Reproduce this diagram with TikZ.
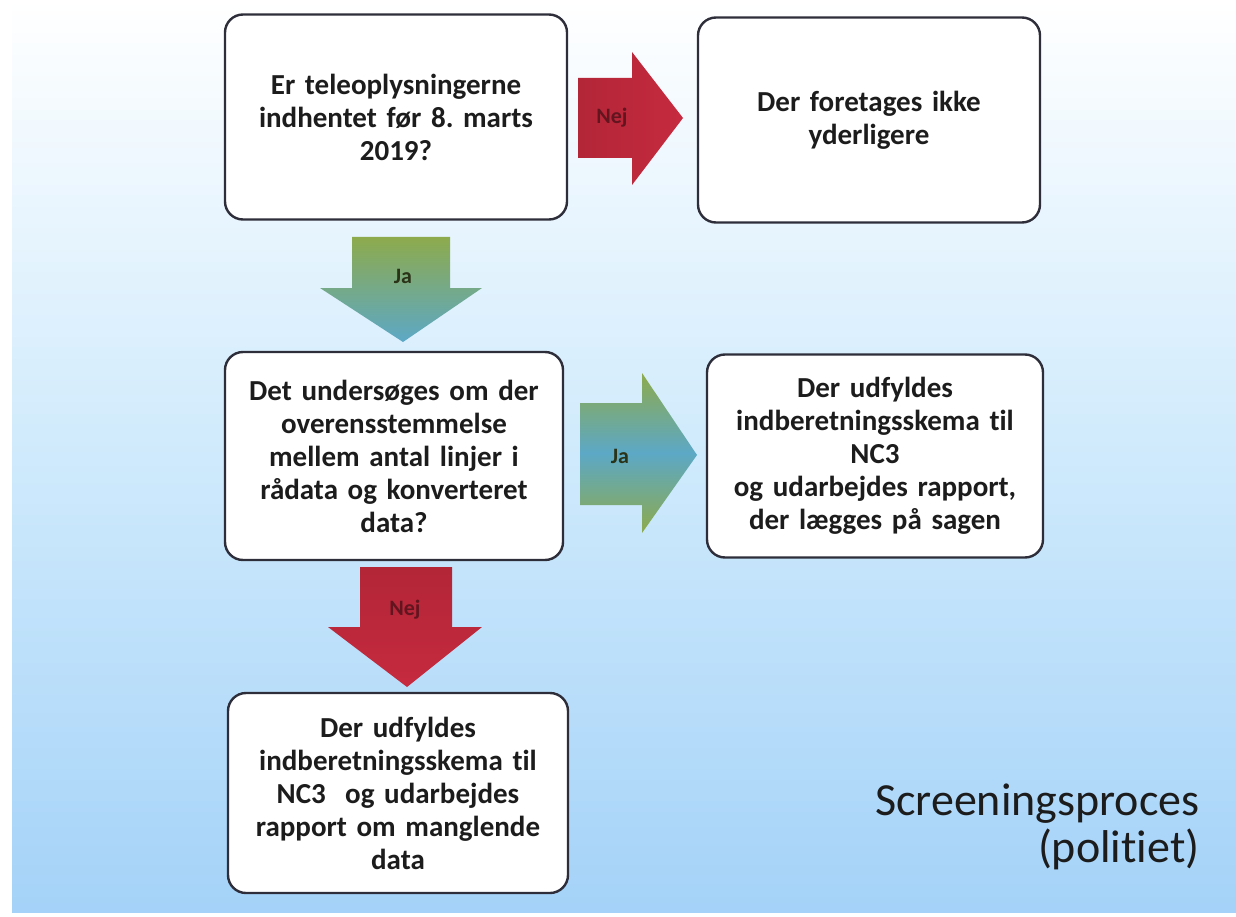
\documentclass[tikz,border=0pt]{standalone}
\usepackage{fontspec}
\setmainfont{Carlito}[Ligatures=NoCommon]
\frenchspacing
\definecolor{bgmid}{HTML}{CFEAFC}
\definecolor{bgblue}{HTML}{A4D2F8}
\definecolor{nejred}{HTML}{C62A3E}
\definecolor{jagreen}{HTML}{8DAA4C}
\definecolor{jablue}{HTML}{5CA8C6}
\definecolor{boxline}{HTML}{2E2E3A}
\definecolor{inkgrey}{HTML}{1C1C1C}

\begin{document}
\begin{tikzpicture}[x=1pt, y=-1pt,
  qbox/.style={draw=boxline, line width=2.4pt, fill=white, rounded corners=18pt,
    align=center, text width=330pt, inner sep=0pt, text=inkgrey,
    font=\bfseries\fontsize{29}{33}\selectfont},
  nejlabel/.style={text=nejred!50!black, font=\bfseries\fontsize{22}{24}\selectfont},
  jalabel/.style={text=jagreen!30!black, font=\bfseries\fontsize{22}{24}\selectfont}]
\useasboundingbox (0,0) rectangle (1236,917);
\fill[white] (0,0) rectangle (1236,917);
\shade[top color=white, bottom color=bgblue, middle color=bgmid] (12,0) rectangle (1236,912);

\node[qbox, minimum width=342pt, minimum height=205pt] (tele) at (396,117)
  {Er teleoplysningerne\\indhentet før 8. marts\\2019?};
\node[qbox, minimum width=342pt, minimum height=205pt] (ikke) at (869,120)
  {Der foretages ikke\\yderligere};
\node[qbox, minimum width=338pt, minimum height=208pt] (linjer) at (394,456)
  {Det undersøges om der\\overensstemmelse\\mellem antal linjer i\\rådata og konverteret\\data?};
\node[qbox, minimum width=336pt, minimum height=203pt] (rapport) at (875,456)
  {Der udfyldes\\indberetningsskema til\\NC3\\og udarbejdes rapport,\\der lægges på sagen};
\node[qbox, minimum width=340pt, minimum height=200pt] (mangler) at (398,793)
  {Der udfyldes\\indberetningsskema til\\NC3~~og udarbejdes\\rapport om manglende\\data};

\shade[left color=nejred!90!black, right color=nejred] (578,78) -- (632,78) -- (632,52) -- (683,118)
  -- (632,185) -- (632,158) -- (578,158) -- cycle;
\node[nejlabel] (nej1) at (612,118) {Nej};

\shade[top color=jagreen, bottom color=jablue] (352,237) -- (450,237) -- (450,288) -- (482,288)
  -- (403,342) -- (320,288) -- (352,288) -- cycle;
\node[jalabel] (ja1) at (403,276) {Ja};

\shade[top color=jagreen, bottom color=jagreen, middle color=jablue] (580,403) -- (642,403) -- (642,373)
  -- (697,455) -- (642,533) -- (642,505) -- (580,505) -- cycle;
\node[jalabel] (ja2) at (620,456) {Ja};

\shade[top color=nejred!90!black, bottom color=nejred] (360,567) -- (452,567) -- (452,627) -- (482,627)
  -- (407,687) -- (328,627) -- (360,627) -- cycle;
\node[nejlabel] (nej2) at (405,610) {Nej};

\node[anchor=base east, align=right, text=inkgrey, font=\fontsize{46}{47}\selectfont] (titel) at (1203,862)
  {Screeningsproces\\(politiet)};

\end{tikzpicture}
\end{document}
